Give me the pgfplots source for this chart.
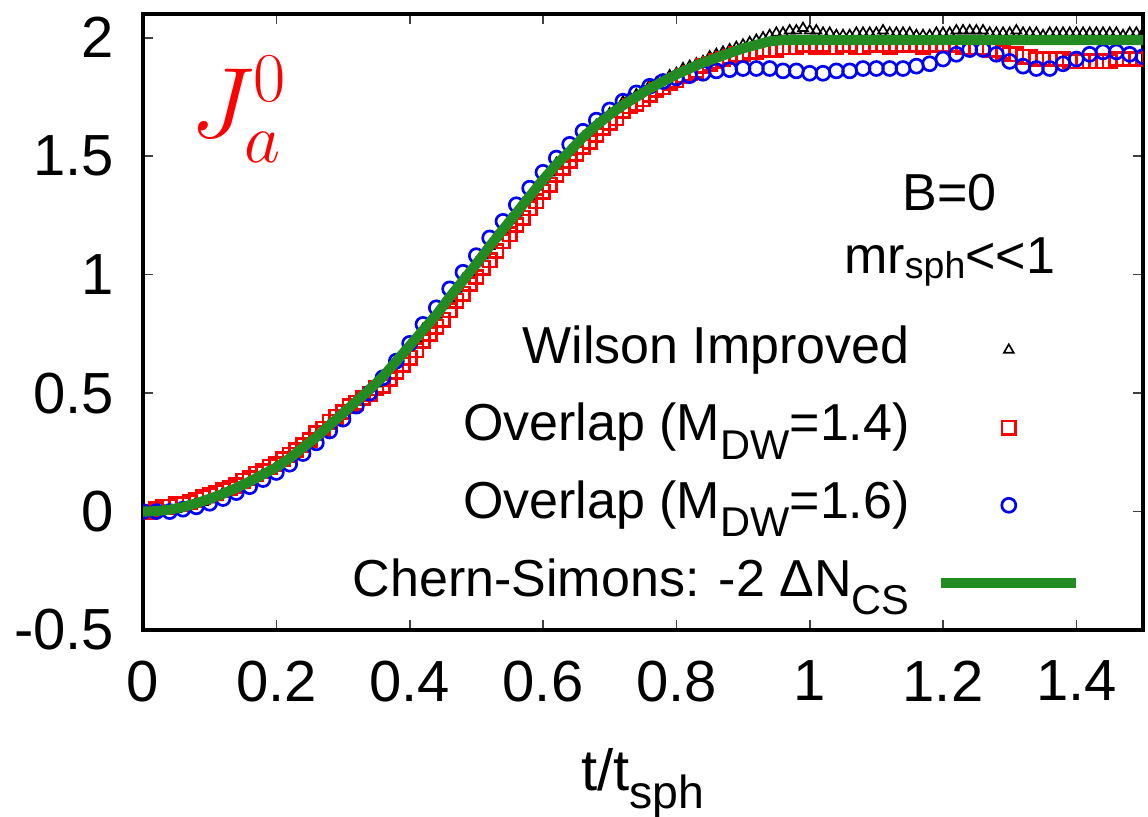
\RequirePackage{fix-cm}
\documentclass[border=0pt]{standalone}
\usepackage[no-math]{fontspec}
\setmainfont{Liberation Sans}
\usepackage{graphicx}
\usepackage{pgfplots}
\pgfplotsset{compat=1.18}
\definecolor{csgreen}{RGB}{34,139,34}
\newcommand{\sub}[1]{\raisebox{-0.35em}{\scalebox{0.8}{#1}}}
\newcommand{\tickfont}{\fontsize{17.4}{20}\selectfont}
\newcommand{\legfont}{\fontsize{15.6}{18}\selectfont}
\pgfplotsset{markleg/.style={legend image code/.code={\draw[mark repeat=2,mark phase=2] plot coordinates {(0pt,0pt) (20.25pt,0pt) (40.5pt,0pt)};}}}
\begin{document}
\begin{tikzpicture}
\path[use as bounding box] (0,0) rectangle (344.4pt,244.8pt);
\begin{axis}[at={(42.9pt,55.8pt)}, anchor=south west,
  scale only axis, width=300pt, height=184.8pt,
  xmin=0, xmax=1.5, ymin=-0.5, ymax=2.1,
  clip marker paths=true,
  xtick={0,0.2,0.4,0.6,0.8,1,1.2,1.4},
  xticklabels={0,0.2,0.4,0.6,0.8,1,1.2,1.4},
  ytick={-0.5,0,0.5,1,1.5,2},
  yticklabels={-0.5,0,0.5,1,1.5,2},
  tick align=inside, major tick length=3pt,
  tick style={line width=0.5pt, black!75},
  axis line style={line width=1.2pt},
  ticklabel style={font=\tickfont},
  xticklabel style={yshift=-5.7pt},
  yticklabel style={xshift=-5.1pt},
  xlabel={t/t\raisebox{-0.3em}{\scalebox{0.8}{sph}}},
  xlabel style={at={(axis description cs:0.5,0)}, anchor=north, yshift=-35.4pt, inner sep=0pt, font=\tickfont},
  legend style={draw=none, fill=none, at={(0.9383,0.025)}, anchor=south east, font=\legfont,
    inner sep=0pt, outer sep=0pt, row sep=4.3pt, column sep=6pt,
    nodes={inner sep=2pt, text height=11.5pt, text depth=3.5pt}},
  legend cell align=right, legend plot pos=right,
]
\addplot[only marks, mark=triangle, mark size=1.7pt, black, mark options={line width=0.5pt}, markleg] coordinates {
(0,0)(0.01,0)(0.02,0)(0.03,0.01)(0.04,0.01)(0.05,0.01)(0.06,0.02)(0.07,0.03)(0.08,0.04)(0.09,0.04)(0.1,0.05)(0.11,0.06)(0.12,0.08)(0.13,0.09)(0.14,0.1)(0.15,0.11)(0.16,0.13)(0.17,0.14)(0.18,0.16)(0.19,0.17)(0.2,0.19)(0.21,0.21)(0.22,0.23)(0.23,0.25)(0.24,0.27)(0.25,0.29)(0.26,0.32)(0.27,0.34)(0.28,0.37)(0.29,0.39)(0.3,0.42)(0.31,0.44)(0.32,0.47)(0.33,0.49)(0.34,0.52)(0.35,0.54)(0.36,0.57)(0.37,0.6)(0.38,0.63)(0.39,0.67)(0.4,0.7)(0.41,0.73)(0.42,0.77)(0.43,0.8)(0.44,0.83)(0.45,0.87)(0.46,0.9)(0.47,0.94)(0.48,0.98)(0.49,1.01)(0.5,1.05)(0.51,1.08)(0.52,1.12)(0.53,1.16)(0.54,1.19)(0.55,1.23)(0.56,1.26)(0.57,1.3)(0.58,1.33)(0.59,1.37)(0.6,1.4)(0.61,1.43)(0.62,1.47)(0.63,1.49)(0.64,1.52)(0.65,1.55)(0.66,1.58)(0.67,1.61)(0.68,1.63)(0.69,1.66)(0.7,1.68)(0.71,1.7)(0.72,1.73)(0.73,1.75)(0.74,1.76)(0.75,1.78)(0.76,1.8)(0.77,1.81)(0.78,1.82)(0.79,1.84)(0.8,1.85)(0.81,1.87)(0.82,1.88)(0.83,1.89)(0.84,1.9)(0.85,1.92)(0.86,1.93)(0.87,1.94)(0.88,1.95)(0.89,1.96)(0.9,1.97)(0.91,1.98)(0.92,1.99)(0.93,2)(0.94,2.01)(0.95,2.02)(0.96,2.02)(0.97,2.03)(0.98,2.03)(0.99,2.04)(1,2.03)(1.01,2.03)(1.02,2.02)(1.03,2.02)(1.04,2.01)(1.05,2.01)(1.06,2.01)(1.07,2.02)(1.08,2.02)(1.09,2.02)(1.1,2.02)(1.11,2.03)(1.12,2.02)(1.13,2.02)(1.14,2.02)(1.15,2.02)(1.16,2.01)(1.17,2.01)(1.18,2.01)(1.19,2.02)(1.2,2.02)(1.21,2.02)(1.22,2.03)(1.23,2.03)(1.24,2.03)(1.25,2.03)(1.26,2.03)(1.27,2.02)(1.28,2.02)(1.29,2.02)(1.3,2.02)(1.31,2.03)(1.32,2.02)(1.33,2.02)(1.34,2.02)(1.35,2.01)(1.36,2.02)(1.37,2.02)(1.38,2.02)(1.39,2.02)(1.4,2.02)(1.41,2.02)(1.42,2.02)(1.43,2.02)(1.44,2.02)(1.45,2.02)(1.46,2.02)(1.47,2.01)(1.48,2.02)(1.49,2.02)(1.5,2.02)
};
\addlegendentry{Wilson Improved}
\addplot[only marks, mark=square, mark size=2pt, red, mark options={line width=0.8pt}, markleg] coordinates {
(0,0)(0.01,0)(0.02,0.01)(0.03,0.02)(0.04,0.02)(0.05,0.03)(0.06,0.03)(0.07,0.04)(0.08,0.05)(0.09,0.06)(0.1,0.07)(0.11,0.08)(0.12,0.09)(0.13,0.1)(0.14,0.11)(0.15,0.13)(0.16,0.14)(0.17,0.16)(0.18,0.17)(0.19,0.19)(0.2,0.2)(0.21,0.22)(0.22,0.24)(0.23,0.26)(0.24,0.28)(0.25,0.3)(0.26,0.33)(0.27,0.35)(0.28,0.38)(0.29,0.4)(0.3,0.42)(0.31,0.445)(0.32,0.46)(0.33,0.48)(0.34,0.495)(0.35,0.52)(0.36,0.53)(0.37,0.56)(0.38,0.59)(0.39,0.62)(0.4,0.65)(0.41,0.68)(0.42,0.72)(0.43,0.75)(0.44,0.78)(0.45,0.81)(0.46,0.85)(0.47,0.89)(0.48,0.92)(0.49,0.96)(0.5,0.99)(0.51,1.03)(0.52,1.06)(0.53,1.1)(0.54,1.14)(0.55,1.17)(0.56,1.21)(0.57,1.24)(0.58,1.28)(0.59,1.31)(0.6,1.35)(0.61,1.38)(0.62,1.42)(0.63,1.45)(0.64,1.48)(0.65,1.51)(0.66,1.54)(0.67,1.56)(0.68,1.59)(0.69,1.62)(0.7,1.64)(0.71,1.66)(0.72,1.69)(0.73,1.71)(0.74,1.72)(0.75,1.74)(0.76,1.76)(0.77,1.78)(0.78,1.79)(0.79,1.81)(0.8,1.82)(0.81,1.84)(0.82,1.85)(0.83,1.86)(0.84,1.88)(0.85,1.89)(0.86,1.9)(0.87,1.91)(0.88,1.92)(0.89,1.93)(0.9,1.93)(0.91,1.94)(0.92,1.94)(0.93,1.95)(0.94,1.95)(0.95,1.95)(0.96,1.96)(0.97,1.96)(0.98,1.96)(0.99,1.97)(1,1.97)(1.01,1.96)(1.02,1.97)(1.03,1.96)(1.04,1.96)(1.05,1.97)(1.06,1.97)(1.07,1.96)(1.08,1.96)(1.09,1.97)(1.1,1.97)(1.11,1.97)(1.12,1.96)(1.13,1.97)(1.14,1.97)(1.15,1.97)(1.16,1.97)(1.17,1.96)(1.18,1.97)(1.19,1.97)(1.2,1.97)(1.21,1.97)(1.22,1.97)(1.23,1.96)(1.24,1.96)(1.25,1.96)(1.26,1.96)(1.27,1.95)(1.28,1.95)(1.29,1.94)(1.3,1.93)(1.31,1.93)(1.32,1.92)(1.33,1.92)(1.34,1.91)(1.35,1.91)(1.36,1.91)(1.37,1.91)(1.38,1.91)(1.39,1.9)(1.4,1.9)(1.41,1.9)(1.42,1.9)(1.43,1.9)(1.44,1.9)(1.45,1.9)(1.46,1.91)(1.47,1.91)(1.48,1.91)(1.49,1.91)(1.5,1.91)
};
\addlegendentry{Overlap (M\sub{DW}=1.4)}
\addplot[only marks, mark=o, mark size=2.1pt, blue, mark options={line width=0.8pt}, markleg] coordinates {
(0,0)(0.02,0)(0.04,0)(0.06,0.01)(0.08,0.02)(0.1,0.035)(0.12,0.055)(0.14,0.08)(0.16,0.105)(0.18,0.135)(0.2,0.165)(0.22,0.2)(0.24,0.245)(0.26,0.29)(0.28,0.34)(0.3,0.39)(0.32,0.445)(0.34,0.5)(0.36,0.565)(0.38,0.635)(0.4,0.71)(0.42,0.79)(0.44,0.86)(0.46,0.94)(0.48,1.01)(0.5,1.08)(0.52,1.155)(0.54,1.225)(0.56,1.295)(0.58,1.365)(0.6,1.432)(0.62,1.492)(0.64,1.55)(0.66,1.605)(0.68,1.652)(0.7,1.695)(0.72,1.732)(0.74,1.767)(0.76,1.795)(0.78,1.815)(0.8,1.83)(0.82,1.84)(0.84,1.85)(0.86,1.86)(0.88,1.865)(0.9,1.87)(0.92,1.87)(0.94,1.87)(0.96,1.86)(0.98,1.86)(1,1.85)(1.02,1.85)(1.04,1.86)(1.06,1.86)(1.08,1.87)(1.1,1.87)(1.12,1.87)(1.14,1.87)(1.16,1.88)(1.18,1.89)(1.2,1.91)(1.22,1.93)(1.24,1.95)(1.26,1.95)(1.28,1.93)(1.3,1.9)(1.32,1.88)(1.34,1.87)(1.36,1.87)(1.38,1.89)(1.4,1.91)(1.42,1.93)(1.44,1.94)(1.46,1.94)(1.48,1.93)(1.5,1.92)
};
\addlegendentry{Overlap (M\sub{DW}=1.6)}
\addplot[csgreen, line width=3pt, legend image code/.code={\draw (0pt,0pt) -- (40.5pt,0pt);}] coordinates {
(0,0)(0.02,0.002)(0.04,0.008)(0.06,0.019)(0.08,0.035)(0.1,0.054)(0.12,0.075)(0.14,0.1)(0.16,0.127)(0.18,0.157)(0.2,0.187)(0.22,0.225)(0.24,0.27)(0.26,0.314)(0.28,0.365)(0.3,0.415)(0.32,0.465)(0.34,0.515)(0.36,0.57)(0.38,0.635)(0.4,0.7)(0.42,0.765)(0.44,0.83)(0.46,0.905)(0.48,0.975)(0.5,1.045)(0.52,1.12)(0.54,1.19)(0.56,1.26)(0.58,1.33)(0.6,1.4)(0.62,1.465)(0.64,1.52)(0.66,1.58)(0.68,1.63)(0.7,1.675)(0.72,1.715)(0.74,1.75)(0.76,1.785)(0.78,1.815)(0.8,1.845)(0.82,1.87)(0.84,1.895)(0.86,1.915)(0.88,1.935)(0.9,1.955)(0.92,1.97)(0.94,1.985)(0.96,1.99)(1,1.99)(1.5,1.99)
};
\addlegendentry{Chern-Simons: -2 ΔN\sub{CS}}
\node[anchor=base west, inner sep=0pt, text=red, font=\fontsize{30}{36}\selectfont] at (axis cs:0.07,1.578) {$J_a^0$};
\node[anchor=base, font=\legfont, inner sep=0pt] at (axis cs:1.21,1.27) {B=0};
\node[anchor=base, font=\legfont, inner sep=0pt] at (axis cs:1.21,1.004) {mr\raisebox{-0.1em}{\scalebox{0.72}{sph}}<{}<{}1};
\end{axis}
\end{tikzpicture}
\end{document}
